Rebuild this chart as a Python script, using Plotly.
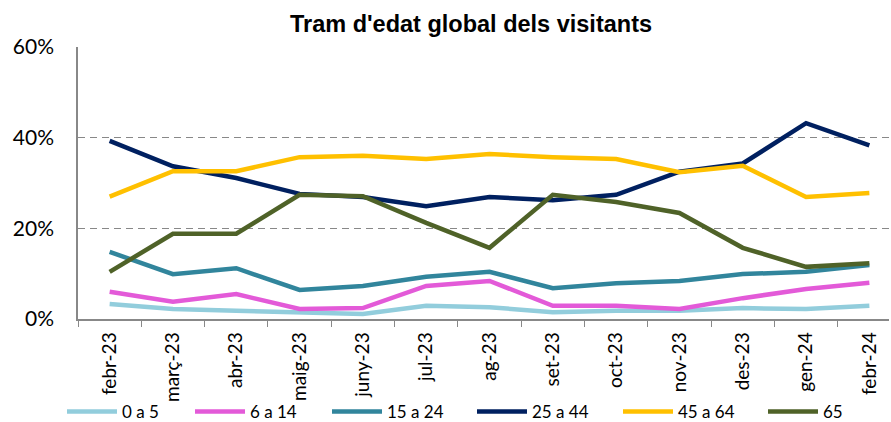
import plotly.graph_objects as go

months = ["febr-23", "març-23", "abr-23", "maig-23", "juny-23", "jul-23", "ag-23",
          "set-23", "oct-23", "nov-23", "des-23", "gen-24", "febr-24"]

s_0_5 = [3.3, 2.2, 1.8, 1.5, 1.1, 2.9, 2.6, 1.5, 1.8, 1.8, 2.4, 2.2, 2.9]
s_6_14 = [6.0, 3.8, 5.5, 2.2, 2.4, 7.3, 8.4, 2.9, 2.9, 2.2, 4.6, 6.6, 8.0]
s_15_24 = [14.8, 9.9, 11.2, 6.4, 7.3, 9.3, 10.4, 6.8, 7.9, 8.4, 9.9, 10.4, 11.9]
s_25_44 = [39.3, 33.7, 31.1, 27.6, 26.9, 24.9, 26.9, 26.2, 27.4, 32.5, 34.3, 43.2, 38.3]
s_45_64 = [27.0, 32.6, 32.6, 35.7, 36.0, 35.3, 36.4, 35.7, 35.3, 32.4, 33.8, 26.9, 27.8]
s_65 = [10.4, 18.8, 18.8, 27.4, 27.1, 21.2, 15.7, 27.4, 25.8, 23.4, 15.7, 11.5, 12.3]

series_names = ["0 a 5", "6 a 14", "15 a 24", "25 a 44", "45 a 64", "65"]
series_values = [s_0_5, s_6_14, s_15_24, s_25_44, s_45_64, s_65]
series_colors = ["#92CDDC", "#E35AD8", "#31859C", "#002060", "#FFC000", "#4F6228"]

W, H = 891, 422
legend_line_starts = [67, 195, 332, 477, 623, 768]

fig = go.Figure()
for i, (name, vals, col) in enumerate(zip(series_names, series_values, series_colors)):
    lg = "legend" if i == 0 else f"legend{i + 1}"
    fig.add_trace(go.Scatter(
        x=months, y=[v / 100 for v in vals], name=name, mode="lines",
        line=dict(color=col, width=4.5), legend=lg,
    ))

legend_common = dict(orientation="h", xref="container", yref="container",
                     xanchor="left", y=(H - 412) / H, yanchor="middle",
                     font=dict(size=17, family="Lato, sans-serif", color="black"),
                     itemwidth=50, entrywidth=90, entrywidthmode="pixels",
                     bgcolor="rgba(0,0,0,0)", borderwidth=0)
legend_layout = {}
for i, xs in enumerate(legend_line_starts):
    key = "legend" if i == 0 else f"legend{i + 1}"
    legend_layout[key] = dict(legend_common, x=(xs - 5) / W)

fig.update_layout(
    width=W, height=H,
    margin=dict(l=78, r=2, t=47, b=103, autoexpand=False),
    paper_bgcolor="white", plot_bgcolor="white",
    title=dict(text="<b>Tram d'edat global dels visitants</b>", x=471 / W, xanchor="center",
               xref="container", yref="container",
               y=1 - 24 / H, yanchor="middle",
               font=dict(family="Liberation Sans, Arial", size=23.5, color="black")),
    font=dict(family="Lato, Open Sans, sans-serif", color="black"),
    showlegend=True,
    **legend_layout,
)
fig.update_xaxes(
    type="category", range=[-0.5, 12.31],
    showline=True, linecolor="#888888", linewidth=1.5,
    ticks="outside", tickson="boundaries", ticklen=6, tickcolor="#888888",
    tickangle=-90, tickfont=dict(size=19, family="Lato, sans-serif"),
    ticklabelstandoff=4,
    showgrid=False, automargin=False,
)
fig.update_yaxes(
    range=[0, 0.6], tickvals=[0, 0.2, 0.4, 0.6], tickformat=".0%",
    showline=True, linecolor="#888888", linewidth=1.5,
    showgrid=True, gridcolor="#888888", griddash="7px,5px", gridwidth=1.3,
    zeroline=False, ticks="", tickfont=dict(size=21, family="Lato, sans-serif"),
    ticklabelstandoff=18, automargin=False,
)

fig.write_html("out.html", config={"displayModeBar": False},
               post_script="document.body.style.margin='0';document.body.style.overflow='hidden';")
